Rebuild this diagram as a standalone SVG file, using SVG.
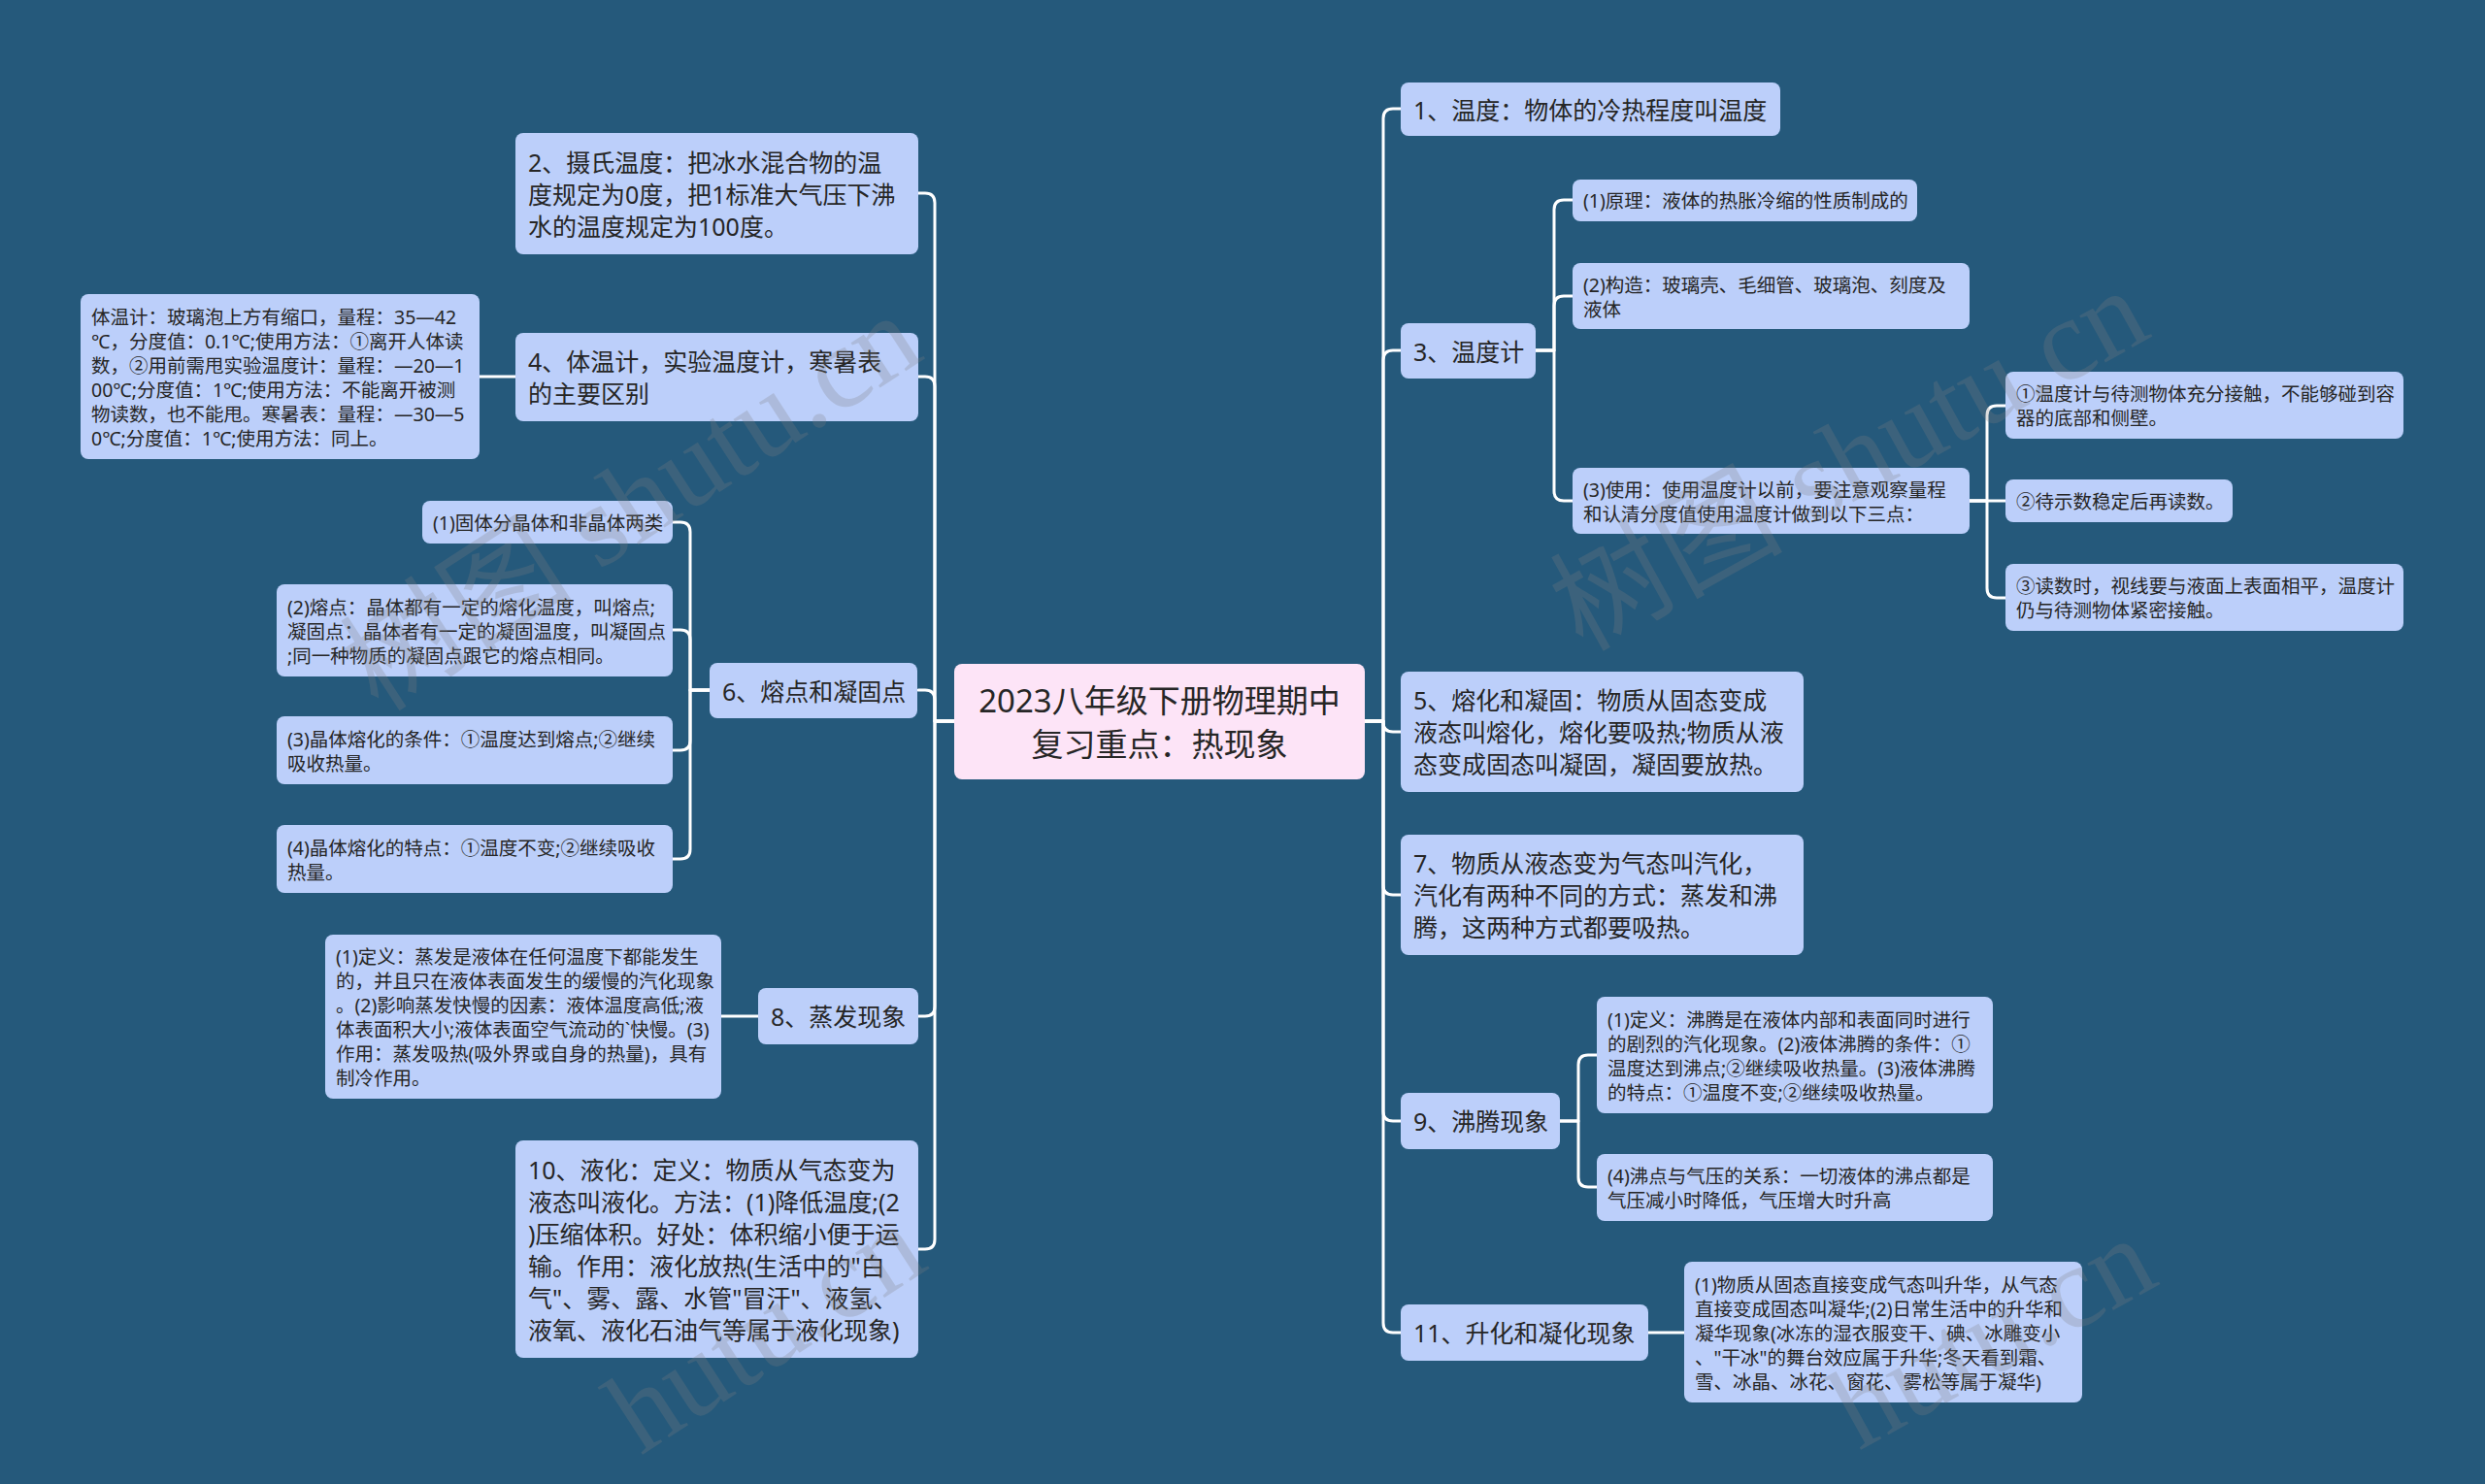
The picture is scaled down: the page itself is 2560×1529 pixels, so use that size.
<svg xmlns="http://www.w3.org/2000/svg" width="2560" height="1529" viewBox="0 0 2560 1529">
<style>
.bg{fill:#25597b}
.n{fill:#bccffa}
.r{fill:#fde4f7}
.t{font-family:"Noto Sans","Noto Sans CJK SC",sans-serif;fill:#262626;dominant-baseline:central}
.b{font-size:25px}
.s{font-size:19.5px}
.rt{font-size:33px;text-anchor:middle}
.c{fill:none;stroke:#ffffff;stroke-width:3;stroke-linecap:round;stroke-linejoin:round}
.wm{font-family:"Liberation Serif","Noto Sans CJK SC",serif;font-size:120px;fill:#808080;opacity:0.25}
</style>
<rect class="bg" x="0" y="0" width="2560" height="1529"/>

<g id="connectors">
<path class="c" d="M1406 743 H1425 V122 Q1425 112 1435 112 H1443"/>
<path class="c" d="M1406 743 H1425 V371 Q1425 361 1435 361 H1443"/>
<path class="c" d="M1406 743 H1425 V744 Q1425 754 1435 754 H1443"/>
<path class="c" d="M1406 743 H1425 V912 Q1425 922 1435 922 H1443"/>
<path class="c" d="M1406 743 H1425 V1145 Q1425 1155 1435 1155 H1443"/>
<path class="c" d="M1406 743 H1425 V1363 Q1425 1373 1435 1373 H1443"/>
<path class="c" d="M983 743 H963 V209 Q963 199 953 199 H946"/>
<path class="c" d="M983 743 H963 V398 Q963 388 953 388 H946"/>
<path class="c" d="M983 743 H963 V721 Q963 711 953 711 H946"/>
<path class="c" d="M983 743 H963 V1037 Q963 1047 953 1047 H946"/>
<path class="c" d="M983 743 H963 V1277 Q963 1287 953 1287 H946"/>
<path class="c" d="M1582 361 H1601 V216 Q1601 206 1611 206 H1620"/>
<path class="c" d="M1582 361 H1601 V315 Q1601 305 1611 305 H1620"/>
<path class="c" d="M1582 361 H1601 V506 Q1601 516 1611 516 H1620"/>
<path class="c" d="M2029 516 H2047 V428 Q2047 418 2057 418 H2066"/>
<path class="c" d="M2029 516 H2066"/>
<path class="c" d="M2029 516 H2047 V606 Q2047 616 2057 616 H2066"/>
<path class="c" d="M1607 1155 H1626 V1097 Q1626 1087 1636 1087 H1645"/>
<path class="c" d="M1607 1155 H1626 V1213 Q1626 1223 1636 1223 H1645"/>
<path class="c" d="M731 711 H711 V548 Q711 538 701 538 H693"/>
<path class="c" d="M731 711 H711 V659 Q711 649 701 649 H693"/>
<path class="c" d="M731 711 H711 V763 Q711 773 701 773 H693"/>
<path class="c" d="M731 711 H711 V875 Q711 885 701 885 H693"/>
<path class="c" d="M531 388 H494"/>
<path class="c" d="M781 1047 H743"/>
<path class="c" d="M1698 1373 H1735"/>
</g>

<g id="root">
<rect class="r" x="983" y="684" width="423" height="119" rx="8"/>
<text class="t rt"><tspan x="1194.5" y="721">2023八年级下册物理期中</tspan><tspan x="1194.5" y="766">复习重点：热现象</tspan></text>
</g>

<g id="n1">
<rect class="n" x="1443" y="85" width="391" height="55" rx="8"/>
<text class="t b" x="1456" y="112.5">1、温度：物体的冷热程度叫温度</text>
</g>

<g id="n3">
<rect class="n" x="1443" y="333" width="139" height="57" rx="8"/>
<text class="t b" x="1456" y="361.5">3、温度计</text>
</g>
<g id="n3-1">
<rect class="n" x="1620" y="185" width="355" height="43" rx="8"/>
<text class="t s" x="1631" y="206.5">(1)原理：液体的热胀冷缩的性质制成的</text>
</g>
<g id="n3-2">
<rect class="n" x="1620" y="271" width="409" height="68" rx="8"/>
<text class="t s"><tspan x="1631" y="292.5">(2)构造：玻璃壳、毛细管、玻璃泡、刻度及</tspan><tspan x="1631" y="317.5">液体</tspan></text>
</g>
<g id="n3-3">
<rect class="n" x="1620" y="482" width="409" height="68" rx="8"/>
<text class="t s"><tspan x="1631" y="503.5">(3)使用：使用温度计以前，要注意观察量程</tspan><tspan x="1631" y="528.5">和认清分度值使用温度计做到以下三点：</tspan></text>
</g>
<g id="n3-3-1">
<rect class="n" x="2066" y="383" width="410" height="69" rx="8"/>
<text class="t s"><tspan x="2077" y="405">①温度计与待测物体充分接触，不能够碰到容</tspan><tspan x="2077" y="430">器的底部和侧壁。</tspan></text>
</g>
<g id="n3-3-2">
<rect class="n" x="2066" y="494" width="234" height="44" rx="8"/>
<text class="t s" x="2077" y="516">②待示数稳定后再读数。</text>
</g>
<g id="n3-3-3">
<rect class="n" x="2066" y="581" width="410" height="69" rx="8"/>
<text class="t s"><tspan x="2077" y="603">③读数时，视线要与液面上表面相平，温度计</tspan><tspan x="2077" y="628">仍与待测物体紧密接触。</tspan></text>
</g>

<g id="n5">
<rect class="n" x="1443" y="692" width="415" height="124" rx="8"/>
<text class="t b"><tspan x="1456" y="721">5、熔化和凝固：物质从固态变成</tspan><tspan x="1456" y="754">液态叫熔化，熔化要吸热;物质从液</tspan><tspan x="1456" y="787">态变成固态叫凝固，凝固要放热。</tspan></text>
</g>

<g id="n7">
<rect class="n" x="1443" y="860" width="415" height="124" rx="8"/>
<text class="t b"><tspan x="1456" y="889">7、物质从液态变为气态叫汽化，</tspan><tspan x="1456" y="922">汽化有两种不同的方式：蒸发和沸</tspan><tspan x="1456" y="955">腾，这两种方式都要吸热。</tspan></text>
</g>

<g id="n9">
<rect class="n" x="1443" y="1126" width="164" height="58" rx="8"/>
<text class="t b" x="1456" y="1155">9、沸腾现象</text>
</g>
<g id="n9-1">
<rect class="n" x="1645" y="1027" width="408" height="120" rx="8"/>
<text class="t s"><tspan x="1656" y="1049.5">(1)定义：沸腾是在液体内部和表面同时进行</tspan><tspan x="1656" y="1074.5">的剧烈的汽化现象。(2)液体沸腾的条件：①</tspan><tspan x="1656" y="1099.5">温度达到沸点;②继续吸收热量。(3)液体沸腾</tspan><tspan x="1656" y="1124.5">的特点：①温度不变;②继续吸收热量。</tspan></text>
</g>
<g id="n9-2">
<rect class="n" x="1645" y="1189" width="408" height="69" rx="8"/>
<text class="t s"><tspan x="1656" y="1211">(4)沸点与气压的关系：一切液体的沸点都是</tspan><tspan x="1656" y="1236">气压减小时降低，气压增大时升高</tspan></text>
</g>

<g id="n11">
<rect class="n" x="1443" y="1344" width="255" height="58" rx="8"/>
<text class="t b" x="1456" y="1373">11、升化和凝化现象</text>
</g>
<g id="n11-1">
<rect class="n" x="1735" y="1300" width="410" height="145" rx="8"/>
<text class="t s"><tspan x="1746" y="1322.5">(1)物质从固态直接变成气态叫升华，从气态</tspan><tspan x="1746" y="1347.5">直接变成固态叫凝华;(2)日常生活中的升华和</tspan><tspan x="1746" y="1372.5">凝华现象(冰冻的湿衣服变干、碘、冰雕变小</tspan><tspan x="1746" y="1397.5">、"干冰"的舞台效应属于升华;冬天看到霜、</tspan><tspan x="1746" y="1422.5">雪、冰晶、冰花、窗花、雾松等属于凝华)</tspan></text>
</g>

<g id="n2">
<rect class="n" x="531" y="137" width="415" height="125" rx="8"/>
<text class="t b"><tspan x="544" y="166.5">2、摄氏温度：把冰水混合物的温</tspan><tspan x="544" y="199.5">度规定为0度，把1标准大气压下沸</tspan><tspan x="544" y="232.5">水的温度规定为100度。</tspan></text>
</g>

<g id="n4">
<rect class="n" x="531" y="343" width="415" height="91" rx="8"/>
<text class="t b"><tspan x="544" y="372">4、体温计，实验温度计，寒暑表</tspan><tspan x="544" y="405">的主要区别</tspan></text>
</g>
<g id="n4-1">
<rect class="n" x="83" y="303" width="411" height="170" rx="8"/>
<text class="t s"><tspan x="94" y="325.5">体温计：玻璃泡上方有缩口，量程：35—42</tspan><tspan x="94" y="350.5">℃，分度值：0.1℃;使用方法：①离开人体读</tspan><tspan x="94" y="375.5">数，②用前需甩实验温度计：量程：—20—1</tspan><tspan x="94" y="400.5">00℃;分度值：1℃;使用方法：不能离开被测</tspan><tspan x="94" y="425.5">物读数，也不能甩。寒暑表：量程：—30—5</tspan><tspan x="94" y="450.5">0℃;分度值：1℃;使用方法：同上。</tspan></text>
</g>

<g id="n6">
<rect class="n" x="731" y="683" width="214" height="57" rx="8"/>
<text class="t b" x="744" y="711.5">6、熔点和凝固点</text>
</g>
<g id="n6-1">
<rect class="n" x="435" y="516" width="258" height="44" rx="8"/>
<text class="t s" x="446" y="538">(1)固体分晶体和非晶体两类</text>
</g>
<g id="n6-2">
<rect class="n" x="285" y="602" width="408" height="95" rx="8"/>
<text class="t s"><tspan x="296" y="624.5">(2)熔点：晶体都有一定的熔化温度，叫熔点;</tspan><tspan x="296" y="649.5">凝固点：晶体者有一定的凝固温度，叫凝固点</tspan><tspan x="296" y="674.5">;同一种物质的凝固点跟它的熔点相同。</tspan></text>
</g>
<g id="n6-3">
<rect class="n" x="285" y="738" width="408" height="70" rx="8"/>
<text class="t s"><tspan x="296" y="760.5">(3)晶体熔化的条件：①温度达到熔点;②继续</tspan><tspan x="296" y="785.5">吸收热量。</tspan></text>
</g>
<g id="n6-4">
<rect class="n" x="285" y="850" width="408" height="70" rx="8"/>
<text class="t s"><tspan x="296" y="872.5">(4)晶体熔化的特点：①温度不变;②继续吸收</tspan><tspan x="296" y="897.5">热量。</tspan></text>
</g>

<g id="n8">
<rect class="n" x="781" y="1018" width="165" height="58" rx="8"/>
<text class="t b" x="794" y="1047">8、蒸发现象</text>
</g>
<g id="n8-1">
<rect class="n" x="335" y="963" width="408" height="169" rx="8"/>
<text class="t s"><tspan x="346" y="985">(1)定义：蒸发是液体在任何温度下都能发生</tspan><tspan x="346" y="1010">的，并且只在液体表面发生的缓慢的汽化现象</tspan><tspan x="346" y="1035">。(2)影响蒸发快慢的因素：液体温度高低;液</tspan><tspan x="346" y="1060">体表面积大小;液体表面空气流动的`快慢。(3)</tspan><tspan x="346" y="1085">作用：蒸发吸热(吸外界或自身的热量)，具有</tspan><tspan x="346" y="1110">制冷作用。</tspan></text>
</g>

<g id="n10">
<rect class="n" x="531" y="1175" width="415" height="224" rx="8"/>
<text class="t b"><tspan x="544" y="1204.5">10、液化：定义：物质从气态变为</tspan><tspan x="544" y="1237.5">液态叫液化。方法：(1)降低温度;(2</tspan><tspan x="544" y="1270.5">)压缩体积。好处：体积缩小便于运</tspan><tspan x="544" y="1303.5">输。作用：液化放热(生活中的"白</tspan><tspan x="544" y="1336.5">气"、雾、露、水管"冒汗"、液氢、</tspan><tspan x="544" y="1369.5">液氧、液化石油气等属于液化现象)</tspan></text>
</g>

<g id="watermarks">
<text class="wm" transform="translate(390 735) rotate(-33)">树图 shutu.cn</text>
<text class="wm" transform="translate(1630 672) rotate(-29)">树图 shutu.cn</text>
<text class="wm" transform="translate(660 1500) rotate(-33)">hutu.cn</text>
<text class="wm" transform="translate(1915 1495) rotate(-29)">hutu.cn</text>
</g>
</svg>
